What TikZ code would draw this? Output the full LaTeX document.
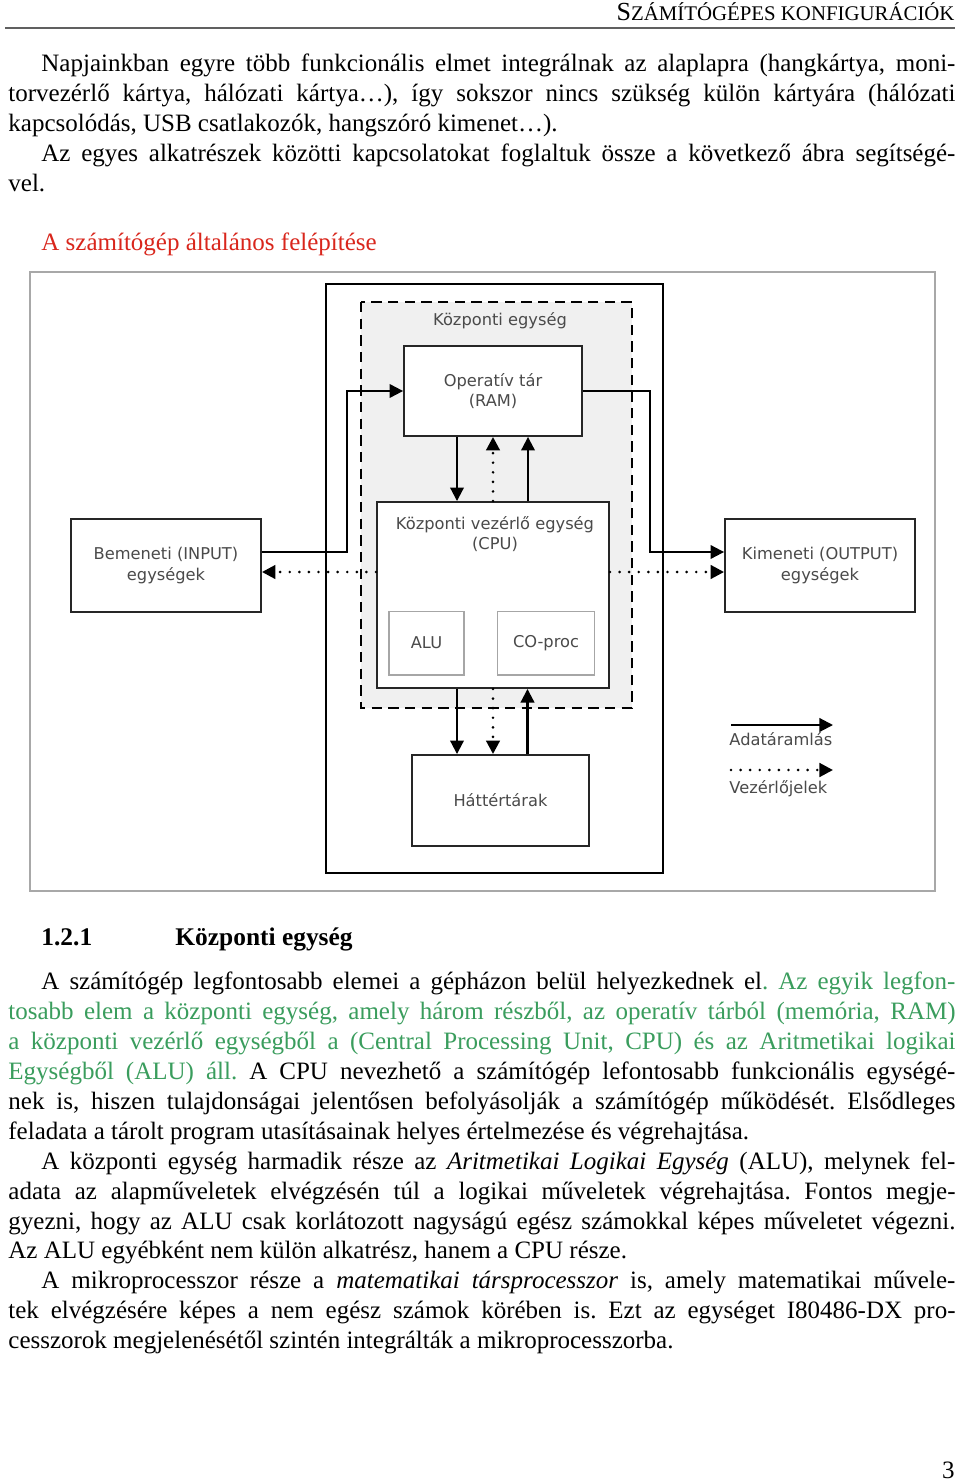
\documentclass[tikz,border=0pt]{standalone}
\usepackage{fontspec}
\setmainfont{Liberation Serif}
\newfontfamily\diagfont{DejaVu Sans}
\usepackage{tikz}
\usetikzlibrary{arrows.meta,calc}
\definecolor{captionred}{HTML}{D9261C}
\definecolor{textgreen}{HTML}{3A9D5D}
\definecolor{boxgray}{HTML}{F0F0F0}
\definecolor{labelgray}{HTML}{4A4A4A}
\definecolor{framegray}{HTML}{A8A8A8}
\definecolor{rulegray}{HTML}{606060}
\frenchspacing

\begin{document}
\begin{tikzpicture}[x=0.48pt,y=-0.48pt,
  txtline/.style={anchor=base west,inner sep=0pt,font=\fontsize{12}{14}\selectfont},
  unit/.style={rectangle,draw=black!85,line width=0.9pt,fill=white,inner sep=0pt,align=center,text=labelgray,font=\fontsize{7.8}{10}\diagfont},
  subunit/.style={unit,draw=black!35,line width=0.5pt},
  data/.style={line width=1pt,-{Triangle[length=6.5pt,width=6.5pt]}},
  ctrl/.style={line width=1.4pt,line cap=round,dash pattern=on 0pt off 4.6pt,-{Triangle[length=6.5pt,width=6.5pt]}},
  legend/.style={anchor=west,inner sep=0pt,text=labelgray,font=\fontsize{7.8}{10}\diagfont}]
  \useasboundingbox (0,0) rectangle (960,1484);
  \fill[white] (0,0) rectangle (960,1484);

  % Header
  \node[anchor=base east,inner sep=0pt] (head) at (955,21) {\fontsize{12.5}{14}\selectfont S\fontsize{10}{12}\selectfont ZÁMÍTÓGÉPES KONFIGURÁCIÓK};
  \draw[rulegray,line width=1pt] (5,28) -- (955,28);

  % Text before the figure
  \node[txtline] (p1a) at (41,72) {\makebox[438.7pt][s]{Napjainkban egyre több funkcionális elmet integrálnak az alaplapra (hangkártya, moni-}};
  \node[txtline] (p1b) at (8,102) {\makebox[454.6pt][s]{torvezérlő kártya, hálózati kártya…), így sokszor nincs szükség külön kártyára (hálózati}};
  \node[txtline] (p1c) at (8,132) {kapcsolódás, USB csatlakozók, hangszóró kimenet…).};
  \node[txtline] (p2a) at (41,162) {\makebox[438.7pt][s]{Az egyes alkatrészek közötti kapcsolatokat foglaltuk össze a következő ábra segítségé-}};
  \node[txtline] (p2b) at (8,192) {vel.};
  \node[txtline,text=captionred] (cap) at (41,251) {A számítógép általános felépítése};

  % Figure frame, case and central unit
  \draw[framegray,line width=0.6pt] (30,272) rectangle (935,891);
  \draw[black,line width=1pt] (326,284) rectangle (663,873);
  \draw[fill=boxgray,line width=0.9pt,dash pattern=on 5pt off 3pt] (361,302) rectangle (632,708);
  \node[legend,anchor=center] (kelbl) at (500,321) {Központi egység};

  % Nodes
  \node[unit,minimum width=85.4pt,minimum height=43.2pt] (ram) at (493,391) {Operatív tár\\(RAM)};
  \node[unit,minimum width=111.4pt,minimum height=89.3pt] (cpu) at (493,595) {};
  \node[legend,anchor=center,align=center] (cpulbl) at (495,534) {Központi vezérlő egység\\(CPU)};
  \node[subunit,minimum width=36pt,minimum height=30.7pt] (alu) at (426.5,643) {ALU};
  \node[subunit,minimum width=47pt,minimum height=30.7pt] (coproc) at (546,643) {CO-proc};
  \node[unit,minimum width=85pt,minimum height=43.7pt] (hat) at (500.5,800.5) {Háttértárak};
  \node[unit,minimum width=91.2pt,minimum height=44.6pt] (inp) at (166,565.5) {Bemeneti (INPUT)\\egységek};
  \node[unit,minimum width=91.2pt,minimum height=44.6pt] (outp) at (820,565.5) {Kimeneti (OUTPUT)\\egységek};

  % Arrows (data flow)
  \draw[data] ($(inp.east)+(0,-13.5)$) -- ++(85,0) |- (ram.west);
  \draw[data] (ram.east) -- ++(67,0) |- ($(outp.west)+(0,-13.5)$);
  \draw[data] ($(ram.south)+(-36,0)$) -- ($(cpu.north)+(-36,0)$);
  \draw[data] ($(cpu.north)+(35,0)$) -- ($(ram.south)+(35,0)$);
  \draw[data] ($(cpu.south)+(-36,0)$) -- ($(hat.north)+(-43.5,0)$);
  \draw[data] ($(hat.north)+(27,0)$) -- ($(cpu.south)+(34.5,0)$);

  % Arrows (control signals)
  \coordinate (ctlin) at ($(inp.east)+(0,6.5)$);
  \coordinate (ctlout) at ($(outp.west)+(0,6.5)$);
  \draw[ctrl] (cpu.west |- ctlin) -- (ctlin);
  \draw[ctrl] (cpu.east |- ctlout) -- (ctlout);
  \draw[ctrl] (cpu.north) -- (ram.south);
  \draw[ctrl] (cpu.south) -- ($(hat.north)+(-7.5,0)$);

  % Legend
  \coordinate (lgdata) at (731,725);
  \draw[data] (lgdata) -- ++(102,0);
  \node[legend] (lgdatal) at (729,739) {Adatáramlás};
  \coordinate (lgctrl) at (731,770);
  \draw[ctrl] (lgctrl) -- ++(102,0);
  \node[legend] (lgctrll) at (729,789) {Vezérlőjelek};

  % Section heading
  \node[txtline,font=\fontsize{12.2}{14}\selectfont\bfseries] (secnum) at (41,945) {1.2.1};
  \node[txtline,font=\fontsize{12.2}{14}\selectfont\bfseries] (sectitle) at (175,945) {Központi egység};

  % Text after the figure
  \node[txtline] (p3a) at (41,989) {\makebox[438.7pt][s]{A számítógép legfontosabb elemei a gépházon belül helyezkednek el\textcolor{textgreen}{. Az egyik legfon-}}};
  \node[txtline,text=textgreen] (p3b) at (8,1019) {\makebox[454.6pt][s]{tosabb elem a központi egység, amely három részből, az operatív tárból (memória, RAM)}};
  \node[txtline,text=textgreen] (p3c) at (8,1049) {\makebox[454.6pt][s]{a központi vezérlő egységből a (Central Processing Unit, CPU) és az Aritmetikai logikai}};
  \node[txtline] (p3d) at (8,1079) {\makebox[454.6pt][s]{\textcolor{textgreen}{Egységből (ALU) áll.} A CPU nevezhető a számítógép lefontosabb funkcionális egységé-}};
  \node[txtline] (p3e) at (8,1109) {\makebox[454.6pt][s]{nek is, hiszen tulajdonságai jelentősen befolyásolják a számítógép működését. Elsődleges}};
  \node[txtline] (p3f) at (8,1139) {feladata a tárolt program utasításainak helyes értelmezése és végrehajtása.};
  \node[txtline] (p4a) at (41,1169) {\makebox[438.7pt][s]{A központi egység harmadik része az \textit{Aritmetikai Logikai Egység} (ALU), melynek fel-}};
  \node[txtline] (p4b) at (8,1199) {\makebox[454.6pt][s]{adata az alapműveletek elvégzésén túl a logikai műveletek végrehajtása. Fontos megje-}};
  \node[txtline] (p4c) at (8,1229) {\makebox[454.6pt][s]{gyezni, hogy az ALU csak korlátozott nagyságú egész számokkal képes műveletet végezni.}};
  \node[txtline] (p4d) at (8,1258) {Az ALU egyébként nem külön alkatrész, hanem a CPU része.};
  \node[txtline] (p5a) at (41,1288) {\makebox[438.7pt][s]{A mikroprocesszor része a \textit{matematikai társprocesszor} is, amely matematikai művele-}};
  \node[txtline] (p5b) at (8,1318) {\makebox[454.6pt][s]{tek elvégzésére képes a nem egész számok körében is. Ezt az egységet I80486-DX pro-}};
  \node[txtline] (p5c) at (8,1348) {cesszorok megjelenésétől szintén integrálták a mikroprocesszorba.};

  % Page number
  \node[anchor=base east,inner sep=0pt,font=\fontsize{12}{14}\selectfont] (pagenum) at (955,1478) {3};
\end{tikzpicture}
\end{document}
